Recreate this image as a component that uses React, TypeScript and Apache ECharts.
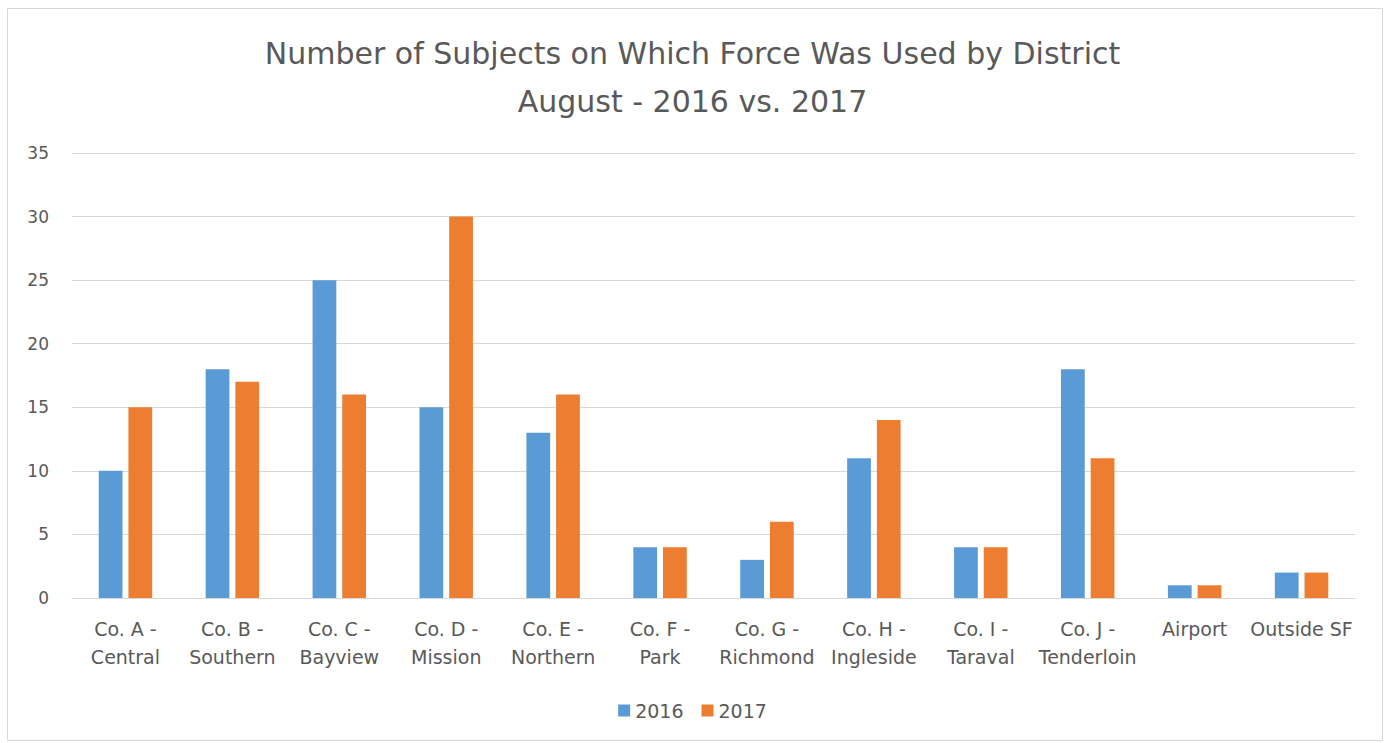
import React, { useEffect, useRef } from "react";
import * as echarts from "echarts";

const categories = [
  "Co. A -\nCentral",
  "Co. B -\nSouthern",
  "Co. C -\nBayview",
  "Co. D -\nMission",
  "Co. E -\nNorthern",
  "Co. F -\nPark",
  "Co. G -\nRichmond",
  "Co. H -\nIngleside",
  "Co. I -\nTaraval",
  "Co. J -\nTenderloin",
  "Airport",
  "Outside SF",
];
const values2016 = [10, 18, 25, 15, 13, 4, 3, 11, 4, 18, 1, 2];
const values2017 = [15, 17, 16, 30, 16, 4, 6, 14, 4, 11, 1, 2];
const seriesNames = ["2016", "2017"];
const titleText = "Number of Subjects on Which Force Was Used by District\nAugust - 2016 vs. 2017";

const FONT = "'DejaVu Sans', 'Open Sans', sans-serif";
const TEXT = "#595959";

export default function App() {
  const ref = useRef<HTMLDivElement>(null);
  useEffect(() => {
    document.body.style.margin = "0";
    const chart = echarts.init(ref.current!, null, { renderer: "svg" });
    chart.setOption({
      animation: false,
      backgroundColor: "#ffffff",
      textStyle: { fontFamily: FONT },
      title: {
        text: titleText,
        left: "center",
        top: 24,
        textStyle: {
          fontFamily: FONT,
          fontSize: 30,
          lineHeight: 48,
          fontWeight: "normal",
          color: TEXT,
        },
      },
      graphic: [
        {
          type: "rect",
          shape: { x: 7.5, y: 8.5, width: 1375, height: 732 },
          style: { fill: "none", stroke: "#D9D9D9", lineWidth: 1 },
          silent: true,
        },
      ],
      legend: {
        data: seriesNames,
        top: 696,
        left: "center",
        itemWidth: 12,
        itemHeight: 12,
        itemGap: 18,
        icon: "rect",
        textStyle: { fontFamily: FONT, fontSize: 19, color: TEXT },
      },
      grid: { left: 72, right: 30, top: 153, bottom: 145, containLabel: false },
      xAxis: {
        type: "category",
        data: categories,
        axisLine: { show: true, lineStyle: { color: "#D9D9D9" } },
        axisTick: { show: false },
        axisLabel: {
          interval: 0,
          margin: 17,
          fontFamily: FONT,
          fontSize: 19,
          lineHeight: 28,
          color: TEXT,
        },
      },
      yAxis: {
        type: "value",
        min: 0,
        max: 35,
        interval: 5,
        axisLine: { show: false },
        axisTick: { show: false },
        splitLine: { lineStyle: { color: "#D9D9D9" } },
        axisLabel: { margin: 23, fontFamily: FONT, fontSize: 17, color: TEXT },
      },
      series: [
        {
          name: seriesNames[0],
          type: "bar",
          data: values2016,
          itemStyle: { color: "#5B9BD5" },
          barGap: "25%",
          barCategoryGap: "50%",
        },
        {
          name: seriesNames[1],
          type: "bar",
          data: values2017,
          itemStyle: { color: "#ED7D31" },
          barGap: "25%",
          barCategoryGap: "50%",
        },
      ],
    });
    return () => chart.dispose();
  }, []);
  return (
    <div
      ref={ref}
      style={{ position: "absolute", left: 0, top: 0, width: 1385, height: 743 }}
    />
  );
}
